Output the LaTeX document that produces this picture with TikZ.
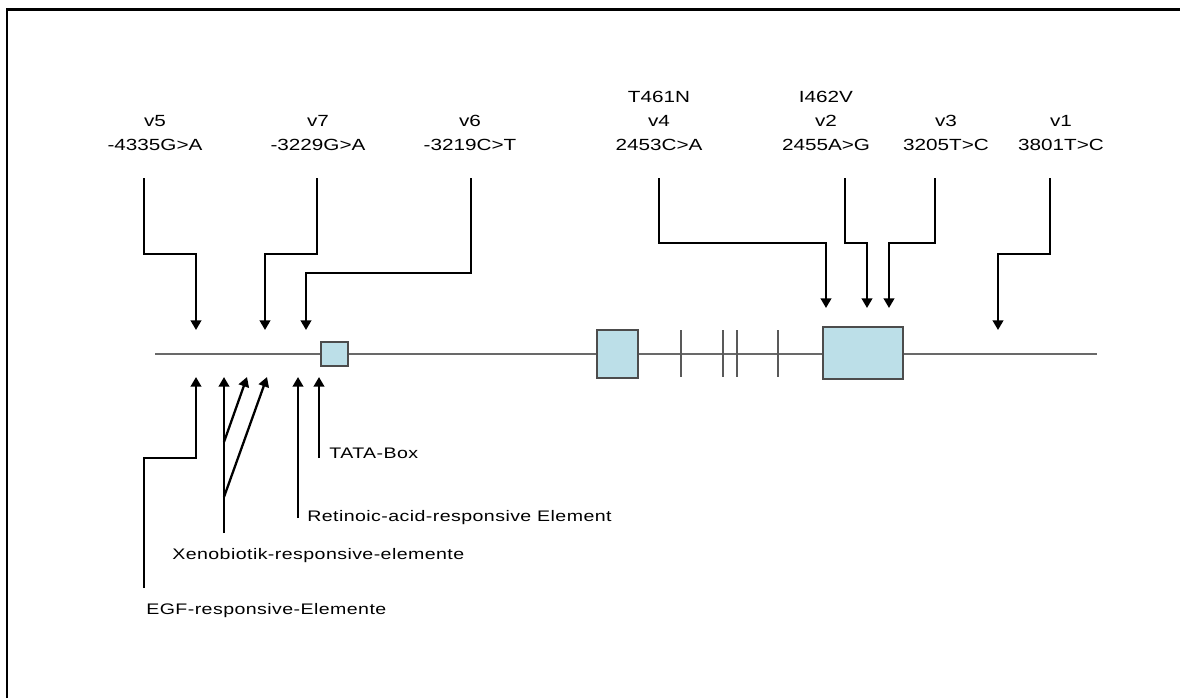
\documentclass[tikz,border=0pt]{standalone}
\usepackage{fontspec}
\setmainfont{Liberation Sans}[FakeStretch=1.28]
\newfontfamily\elemfont{Liberation Sans}[FakeStretch=1.28,LetterSpace=2.8]
\usetikzlibrary{arrows.meta}

\definecolor{exonblue}{RGB}{188,223,232}
\definecolor{dnagray}{RGB}{105,105,105}

\tikzset{
  varlabel/.style={align=center,anchor=south,inner sep=0pt,font=\fontsize{9.2}{13.6}\selectfont},
  elemlabel/.style={anchor=base west,inner sep=0pt,font=\elemfont\fontsize{8.7}{10}\selectfont},
  pin/.style={line width=1.3pt,-{Triangle[length=5.5pt,width=6pt]}},
  exon/.style={draw=black!70,fill=exonblue,line width=0.7pt,inner sep=0pt},
}

\begin{document}
\begin{tikzpicture}[x=0.02cm,y=-0.02cm]
  \useasboundingbox (0,0) rectangle (1180,698);
  % frame
  \draw[line width=1.4pt] (7,698) |- (1180,9.5);

  % DNA strand
  \coordinate (dnaL) at (155,354);
  \coordinate (dnaR) at (1097,354);
  \draw[dnagray,line width=0.8pt] (dnaL) -- (dnaR);

  % exons
  \node[exon,minimum width=0.54cm,minimum height=0.48cm] (tata) at (334.5,354) {};
  \node[exon,minimum width=0.82cm,minimum height=0.96cm] (ex1) at (617.5,354) {};
  \node[exon,minimum width=1.6cm,minimum height=1.04cm] (ex9) at (863,353) {};
  \foreach \x in {681,723,737,778}
    \draw[black!65,line width=0.8pt] (\x,330) -- (\x,377);

  % variants
  \node[varlabel] (v5) at (155,150.5) {v5\\-4335G>A};
  \node[varlabel] (v7) at (318,150.5) {v7\\-3229G>A};
  \node[varlabel] (v6) at (470,150.5) {v6\\-3219C>T};
  \node[varlabel] (v4) at (659,150.5) {T461N\\v4\\2453C>A};
  \node[varlabel] (v2) at (826,150.5) {I462V\\v2\\2455A>G};
  \node[varlabel] (v3) at (946,150.5) {v3\\3205T>C};
  \node[varlabel] (v1) at (1061,150.5) {v1\\3801T>C};

  % sites
  \foreach \n/\x/\y in {s5/196/330, s7/265/330, s6/306/330, s4/826/308,
                        s2/867/308, s3/889/308, s1/998/330}
    \coordinate (\n) at (\x,\y);

  \draw[pin] (144,178) |- (196,254) -- (s5);
  \draw[pin] (317,178) |- (265,254) -- (s7);
  \draw[pin] (471,178) |- (306,273) -- (s6);
  \draw[pin] (659,178) |- (826,243) -- (s4);
  \draw[pin] (845,178) |- (867,243) -- (s2);
  \draw[pin] (935,178) |- (889,243) -- (s3);
  \draw[pin] (1050,178) |- (998,254) -- (s1);

  % promoter elements
  \coordinate (egf) at (196,377);
  \coordinate (xen1) at (224,377);
  \coordinate (xen2) at (247,377);
  \coordinate (xen3) at (267,377);
  \coordinate (rare) at (298,377);
  \coordinate (tbox) at (319,377);

  \draw[pin] (144,588) |- (196,458) -- (egf);
  \draw[pin] (224,533) -- (xen1);
  \draw[pin] (224,442) -- (xen2);
  \draw[pin] (224,497) -- (xen3);
  \draw[pin] (298,518) -- (rare);
  \draw[pin] (319,458) -- (tbox);

  \node[elemlabel] (egflbl) at (146,614) {EGF-responsive-Elemente};
  \node[elemlabel] (xenlbl) at (172,559) {Xenobiotik-responsive-elemente};
  \node[elemlabel] (ralbl) at (307,521) {Retinoic-acid-responsive Element};
  \node[elemlabel] (tatalbl) at (329,458) {TATA-Box};
\end{tikzpicture}
\end{document}
